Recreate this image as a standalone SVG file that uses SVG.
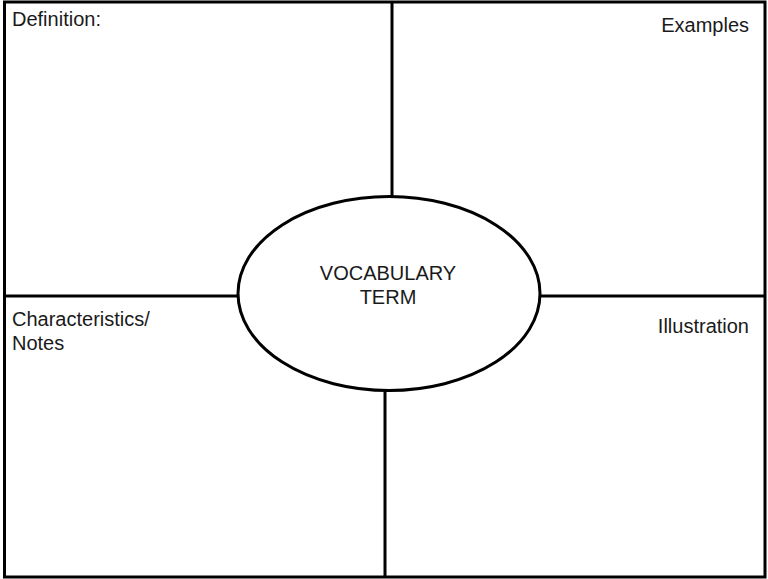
<svg xmlns="http://www.w3.org/2000/svg" width="768" height="579" viewBox="0 0 768 579">
<style>
.ln{stroke:#000;stroke-width:3;fill:none}
.lbl{font-family:"Liberation Sans",Arial,sans-serif;font-size:20px;fill:#1a1a1a}
</style>
<rect width="768" height="579" fill="#fff"/>
<g id="frame">
<rect class="ln" x="4.5" y="2" width="760.5" height="575"/>
</g>
<g id="connectors">
<line class="ln" x1="392" y1="2" x2="392" y2="196"/>
<line class="ln" x1="385" y1="390" x2="385" y2="577"/>
<line class="ln" x1="4.5" y1="296" x2="238" y2="296"/>
<line class="ln" x1="540" y1="296" x2="765" y2="296"/>
</g>
<g id="definition">
<text class="lbl" x="12" y="26">Definition:</text>
</g>
<g id="examples">
<text class="lbl" x="749" y="32" text-anchor="end">Examples</text>
</g>
<g id="characteristics">
<text class="lbl" x="12" y="326">Characteristics/</text>
<text class="lbl" x="12" y="350">Notes</text>
</g>
<g id="illustration">
<text class="lbl" x="749" y="333" text-anchor="end">Illustration</text>
</g>
<g id="term">
<ellipse class="ln" cx="389" cy="293.5" rx="151" ry="97" fill="#fff"/>
<text class="lbl" x="388" y="280" text-anchor="middle">VOCABULARY</text>
<text class="lbl" x="388" y="304" text-anchor="middle">TERM</text>
</g>
</svg>
